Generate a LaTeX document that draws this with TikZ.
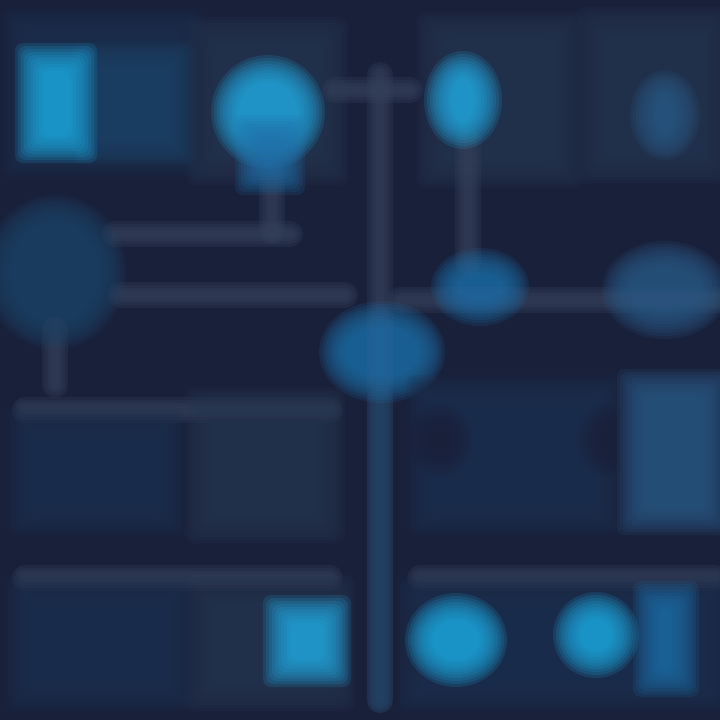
\documentclass[tikz,border=0pt]{standalone}
\definecolor{bgnavy}{HTML}{19203A}
\definecolor{paneldark}{HTML}{1E3150}
\definecolor{panelblue}{HTML}{1F4468}
\definecolor{panelgrey}{HTML}{263650}
\definecolor{wiregrey}{HTML}{34405A}
\definecolor{glowcyan}{HTML}{1FAAE2}
\definecolor{glowmid}{HTML}{1F6EA8}
\definecolor{glowdim}{HTML}{2A5A86}

% soft (blurred) box: x1 y1 x2 y2 colour
\newcommand{\softbox}[5]{%
  \foreach \k in {0,...,9}{
    \fill[#5, opacity=0.16, rounded corners=8pt]
      (#1+14-\k*3, #2+14-\k*3) rectangle (#3-14+\k*3, #4-14+\k*3);
  }
}
% soft disc: x y rx ry colour
\newcommand{\softdisc}[5]{%
  \foreach \k in {0,...,9}{
    \fill[#5, opacity=0.16] (#1,#2) ellipse ({#3-14+\k*3} and {#4-14+\k*3});
  }
}
% soft line: colour, path
\newcommand{\softwire}[2]{%
  \foreach \w in {26,20,14,8}{
    \draw[#1, opacity=0.3, line width=\w pt, line cap=round] #2;
  }
}

\begin{document}
\begin{tikzpicture}[x=1pt, y=-1pt]
\useasboundingbox (0,0) rectangle (720,720);
\fill[bgnavy] (0,0) rectangle (720,720);

% top row panels
\softbox{15}{22}{190}{165}{paneldark}
\softbox{85}{55}{182}{152}{panelblue}
\softbox{200}{30}{335}{172}{panelgrey}
\softbox{430}{25}{570}{175}{panelgrey}
\softbox{590}{20}{718}{170}{panelgrey}

% main spine and top branch
\softwire{wiregrey}{(380,75) -- (380,700)}
\softwire{wiregrey}{(335,90) -- (410,90)}
\softwire{panelblue}{(380,400) -- (380,700)}

% left branches
\softwire{wiregrey}{(272,175) -- (272,232)}
\softwire{wiregrey}{(115,234) -- (290,234)}
\softwire{wiregrey}{(120,295) -- (345,295)}
\softwire{wiregrey}{(55,330) -- (55,385)}

% right branches
\softwire{wiregrey}{(468,140) -- (468,262)}
\softwire{wiregrey}{(400,300) -- (718,300)}

% glowing items, top row
\softbox{28}{56}{84}{150}{glowcyan}
\softdisc{268}{112}{44}{44}{glowcyan}
\softbox{248}{128}{292}{182}{glowmid}
\softdisc{463}{100}{26}{36}{glowcyan}
\softdisc{665}{115}{22}{32}{glowdim}

% middle row blobs
\softdisc{55}{272}{58}{64}{panelblue}
\softdisc{480}{287}{36}{26}{glowmid}
\softdisc{665}{290}{50}{36}{glowdim}
\softdisc{382}{352}{50}{38}{glowmid}

% third row panels
\softwire{wiregrey}{(25,410) -- (330,410)}
\softbox{20}{420}{172}{522}{paneldark}
\softbox{198}{400}{332}{530}{panelgrey}
\softbox{420}{388}{608}{522}{paneldark}
\softdisc{440}{440}{20}{24}{bgnavy}
\softdisc{608}{440}{18}{24}{bgnavy}
\softbox{630}{382}{718}{522}{glowdim}

% bottom row panels
\softwire{wiregrey}{(25,578) -- (330,578)}
\softwire{wiregrey}{(420,578) -- (715,578)}
\softbox{18}{588}{182}{698}{paneldark}
\softbox{198}{588}{342}{698}{panelgrey}
\softbox{410}{588}{718}{700}{paneldark}

% glowing items, bottom row
\softbox{276}{608}{338}{674}{glowcyan}
\softdisc{456}{640}{38}{34}{glowcyan}
\softdisc{596}{635}{30}{30}{glowcyan}
\softbox{646}{594}{686}{684}{glowmid}
\end{tikzpicture}
\end{document}
